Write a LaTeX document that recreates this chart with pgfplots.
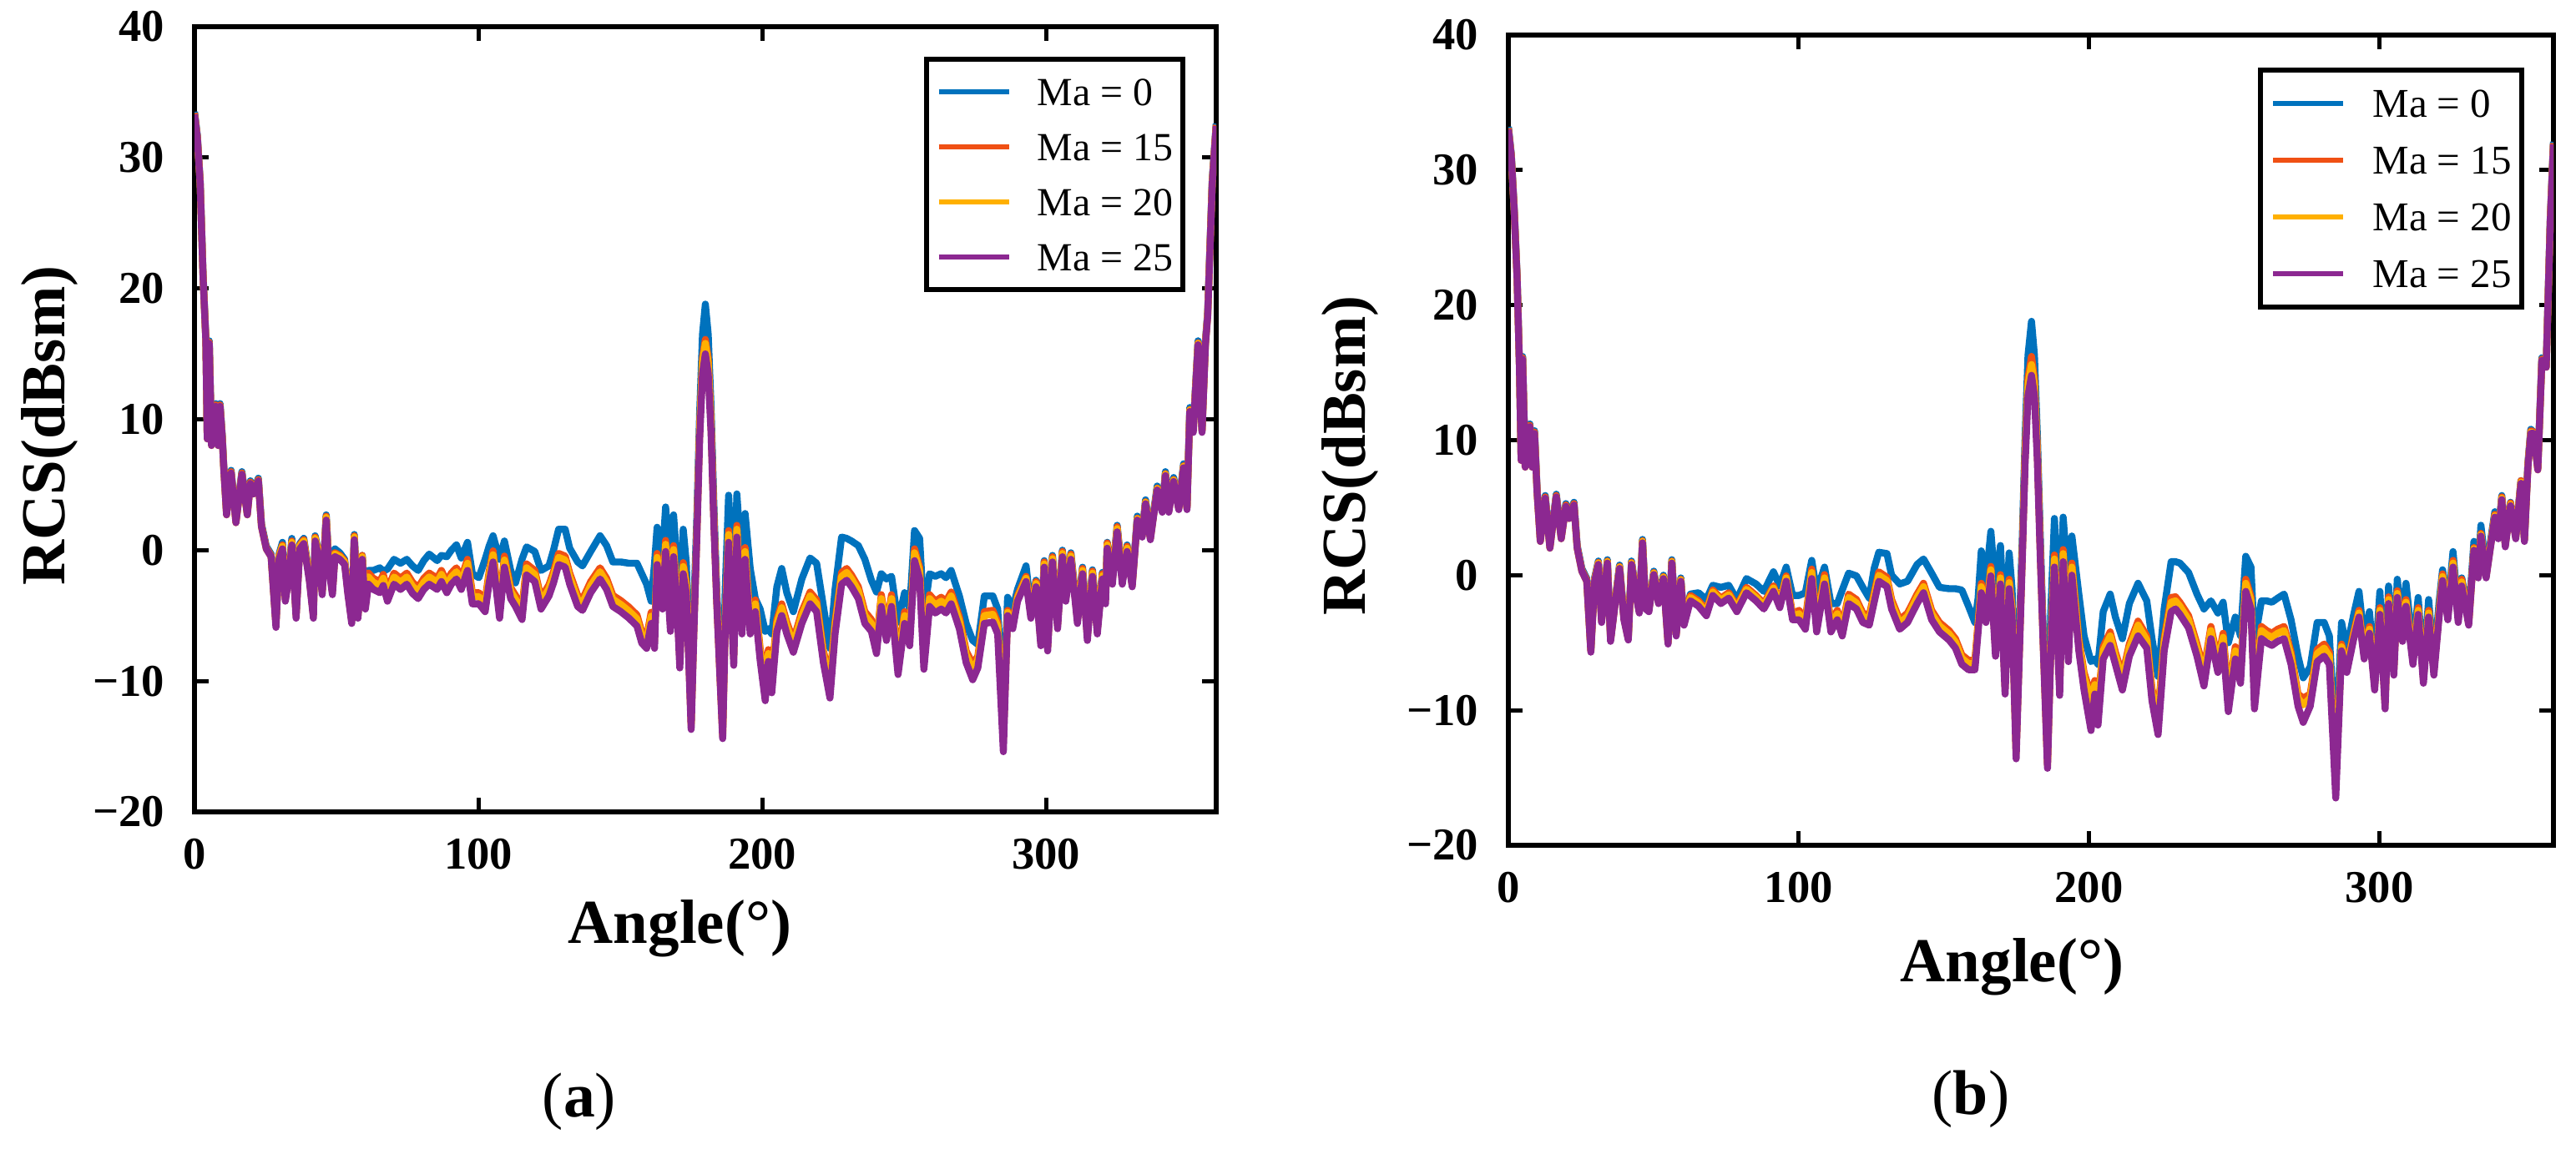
\documentclass[border=0pt]{standalone}
\usepackage{pgfplots}
\pgfplotsset{compat=1.18}
\usepackage{pgfplotstable}
\usepackage{fontspec}
\setmainfont{Liberation Serif}

\definecolor{cA}{RGB}{0,114,189}
\definecolor{cB}{RGB}{240,80,20}
\definecolor{cC}{RGB}{255,176,0}
\definecolor{cD}{RGB}{140,40,145}

\pgfplotstableread{
a m0 m15 m20 m25
0 33.5 33.4 33.3 33.3
1 31.7 31.6 31.5 31.5
2 28.2 28.1 28.0 28.0
3 21.2 21.1 21.0 21.0
4.0 16.2 16.1 16.0 16.0
4.5 8.7 8.6 8.5 8.5
5.2 16.0 15.9 15.8 15.8
6.0 8.2 8.1 8.0 8.0
6.8 9.2 9.1 9.0 9.0
7.5 11.2 11.1 11.0 11.0
8.3 8.2 8.1 8.0 8.0
9.0 11.2 11.1 11.0 11.0
9.8 8.7 8.6 8.5 8.5
10.3 6.5 6.4 6.3 6.3
11.3 2.9 2.8 2.7 2.7
12.9 6.1 6.0 5.9 5.9
14.6 2.3 2.2 2.1 2.1
16.7 6.0 5.9 5.8 5.8
18.6 2.9 2.8 2.7 2.7
19.7 5.3 5.2 5.1 5.1
20.8 4.5 4.4 4.3 4.3
22.5 5.5 5.4 5.3 5.3
23.6 2.0 1.9 1.8 1.8
25.3 0.3 0.2 0.1 0.1
27.0 -0.3 -0.4 -0.5 -0.5
28.7 -5.5 -5.6 -5.7 -5.9
29.8 -0.3 -0.4 -0.5 -0.7
31.0 0.6 0.4 0.3 0.1
32.0 -3.5 -3.6 -3.7 -3.9
33.2 -1.8 -1.9 -2.0 -2.2
34.3 0.9 0.7 0.6 0.4
35.8 -4.8 -4.9 -5.0 -5.2
37.1 0.5 0.4 0.3 0.1
38.5 0.9 0.8 0.7 0.5
40.5 -2.0 -2.1 -2.2 -2.4
41.9 -4.8 -4.9 -5.0 -5.2
42.5 1.1 1.0 0.9 0.7
43.9 -0.3 -0.4 -0.5 -0.7
45.0 -3.0 -3.1 -3.2 -3.4
46.4 2.7 2.6 2.5 2.3
47.3 -0.9 -1.0 -1.1 -1.3
48.6 -3.0 -3.1 -3.2 -3.4
49.5 0.1 -0.2 -0.3 -0.5
51.2 -0.2 -0.4 -0.5 -0.7
52.9 -0.7 -0.8 -0.9 -1.1
54.0 -2.9 -3.0 -3.1 -3.3
55.4 -5.2 -5.3 -5.4 -5.6
56.3 1.2 1.1 1.0 0.8
57.6 -4.8 -4.9 -5.0 -5.2
59.1 -0.4 -0.4 -0.5 -0.7
60.2 -4.0 -4.2 -4.3 -4.5
61.3 -1.55 -1.75 -2.05 -2.6
63.0 -1.55 -2.15 -2.45 -3.0
65.3 -1.35 -2.4 -2.7 -3.25
66.5 -1.6 -1.85 -2.15 -2.7
68.0 -1.45 -3.05 -3.35 -3.9
70.3 -0.7 -1.75 -2.05 -2.6
72.6 -1.0 -2.15 -2.45 -3.0
74.8 -0.7 -1.75 -2.05 -2.6
76.8 -1.2 -2.45 -2.75 -3.3
78.8 -1.55 -2.85 -3.15 -3.7
80.8 -0.8 -2.15 -2.45 -3.0
82.7 -0.3 -1.75 -2.05 -2.6
85.5 -0.8 -2.15 -2.45 -3.0
87.0 -0.4 -1.55 -1.85 -2.4
88.9 -0.5 -2.4 -2.7 -3.25
90.5 0.0 -1.75 -2.05 -2.6
92.3 0.4 -1.35 -1.65 -2.2
94.0 -0.6 -2.15 -2.45 -3.0
96.2 0.6 -0.7 -1.0 -1.55
97.9 -1.8 -3.25 -3.55 -4.1
100.2 -2.1 -3.25 -3.55 -4.1
102.4 -0.7 -3.85 -4.15 -4.7
103.8 0.3 -1.65 -1.95 -2.5
105.2 1.1 -0.05 -0.35 -0.9
107.5 -0.7 -4.35 -4.65 -5.2
109.2 0.7 -0.45 -0.75 -1.3
111.4 -1.55 -2.85 -3.15 -3.7
113.1 -2.5 -3.45 -3.75 -4.3
115.4 -0.7 -4.45 -4.75 -5.3
117.0 0.25 -1.05 -1.35 -1.9
119.9 -0.1 -1.55 -1.85 -2.4
122.1 -1.55 -3.65 -3.95 -4.5
124.9 -1.2 -2.65 -2.95 -3.5
126.5 0.0 -1.65 -1.95 -2.5
128.3 1.6 -0.25 -0.55 -1.1
130.6 1.6 -0.45 -0.75 -1.3
132.2 0.15 -1.75 -2.05 -2.6
135.0 -0.9 -3.45 -3.75 -4.3
136.7 -1.2 -3.75 -4.05 -4.6
139.6 -0.1 -2.4 -2.7 -3.25
142.9 1.1 -1.35 -1.65 -2.2
145.2 0.35 -2.15 -2.45 -3.0
147.4 -0.9 -3.45 -3.75 -4.3
150.2 -0.9 -3.85 -4.15 -4.7
153.1 -1.0 -4.35 -4.65 -5.2
155.9 -1.0 -4.95 -5.25 -5.8
157.6 -1.8 -6.25 -6.55 -7.1
159.3 -2.6 -6.65 -6.95 -7.5
160.9 -3.9 -4.75 -5.05 -5.6
162.1 -1.0 -6.65 -6.95 -7.5
163.0 1.75 -0.25 -0.55 -1.1
164.9 -0.5 -3.65 -3.95 -4.5
166.0 3.3 0.75 0.45 -0.1
167.7 -1.8 -5.35 -5.65 -6.2
168.8 2.7 0.35 0.05 -0.5
170.0 -1.0 -3.45 -3.75 -4.3
171.0 -6.0 -8.15 -8.45 -9.0
172.2 1.6 -0.95 -1.25 -1.8
173.3 -1.0 -2.45 -2.75 -3.3
175.0 -12.5 -13.2 -13.4 -13.7
176.0 -4.0 -5.4 -5.6 -6.0
177.0 2.5 1.5 1.3 1.0
178.0 10.5 9.5 9.2 8.5
179.0 16.5 14.7 14.3 13.5
180.0 18.8 16.1 15.8 15.0
181.0 16.5 14.7 14.3 13.5
182.0 11.0 10.0 9.6 9.0
183.0 3.5 2.6 2.4 2.0
184.0 -3.0 -3.6 -3.8 -4.0
185.0 -8.0 -8.7 -8.8 -9.0
186.1 -13.0 -14.0 -14.2 -14.4
187.0 -3.0 -5.3 -5.6 -6.0
188.2 4.2 1.5 1.2 0.6
190.0 -4.0 -7.9 -8.2 -8.8
191.1 4.3 1.9 1.6 1.0
192.9 -1.5 -5.5 -5.8 -6.4
194.0 2.8 0.2 -0.1 -0.7
195.8 -1.4 -5.5 -5.8 -6.4
197.6 -3.7 -3.8 -4.1 -4.7
199.3 -4.5 -7.5 -7.8 -8.4
201.1 -6.2 -9.8 -10.2 -11.5
202.2 -6.0 -7.6 -7.9 -8.5
203.4 -6.4 -9.4 -9.8 -10.9
205.2 -2.8 -5.3 -5.6 -6.2
206.9 -1.4 -4.1 -4.4 -5.0
208.7 -3.25 -5.5 -5.8 -6.4
211.0 -4.7 -6.9 -7.2 -7.8
214.0 -2.2 -4.7 -5.0 -5.6
216.9 -0.6 -3.2 -3.5 -4.1
219.2 -1.0 -3.8 -4.1 -4.7
221.6 -4.3 -7.7 -8.0 -8.6
223.9 -7.5 -9.8 -10.2 -11.3
225.7 -3.0 -5.5 -5.8 -6.4
228.0 1.0 -1.7 -2.0 -2.6
229.8 0.9 -1.4 -1.7 -2.3
231.5 0.7 -1.9 -2.2 -2.8
233.9 0.35 -2.8 -3.1 -3.7
236.2 -0.7 -4.7 -5.0 -5.6
238.5 -2.3 -5.3 -5.6 -6.2
240.3 -3.2 -7.0 -7.3 -7.9
242.0 -1.8 -3.4 -3.7 -4.3
243.8 -2.2 -6.0 -6.3 -6.9
245.6 -2.0 -3.4 -3.7 -4.3
247.9 -5.5 -8.3 -8.7 -9.5
250.2 -3.25 -4.7 -5.0 -5.6
252.0 -4.5 -6.4 -6.7 -7.3
253.7 1.5 0.1 -0.2 -0.8
255.5 0.9 -1.3 -1.6 -2.2
257.0 -5.0 -8.0 -8.4 -9.1
259.0 -1.8 -3.4 -3.7 -4.3
261.0 -2.0 -3.9 -4.2 -4.8
263.1 -1.8 -3.6 -3.9 -4.5
264.8 -2.1 -3.9 -4.2 -4.8
266.6 -1.55 -3.2 -3.5 -4.1
269.5 -3.5 -5.1 -5.4 -6.0
271.9 -5.6 -7.7 -8.0 -8.6
274.2 -6.9 -8.7 -9.1 -9.9
276.0 -7.2 -8.1 -8.4 -9.0
278.3 -3.5 -4.7 -5.0 -5.6
281.3 -3.5 -4.6 -4.9 -5.5
283.0 -4.5 -5.5 -5.8 -6.4
285.0 -12.0 -14.0 -14.5 -15.4
286.5 -3.6 -4.6 -4.75 -5.0
288.3 -4.5 -5.6 -5.75 -6.0
290.0 -3.0 -3.5 -3.65 -3.9
293.0 -1.2 -2.0 -2.15 -2.4
294.7 -4.5 -4.8 -4.95 -5.2
296.5 -2.3 -2.4 -2.55 -2.8
298.2 -6.5 -6.9 -7.05 -7.3
299.4 -0.8 -0.9 -1.05 -1.3
300.6 -7.0 -7.3 -7.45 -7.7
302.3 -0.4 -0.5 -0.65 -0.9
304.1 -5.5 -5.6 -5.75 -6.0
305.8 0.0 -0.1 -0.25 -0.5
307.0 -3.4 -3.5 -3.65 -3.9
308.8 -0.2 -0.3 -0.45 -0.7
311.1 -5.0 -5.2 -5.35 -5.6
312.9 -1.3 -1.4 -1.55 -1.8
314.6 -6.3 -6.5 -6.65 -6.9
316.4 -1.5 -1.6 -1.75 -2.0
318.1 -5.9 -6.0 -6.15 -6.4
319.9 -1.7 -1.8 -1.95 -2.2
321.0 -3.6 -3.7 -3.85 -4.1
321.6 0.6 0.55 0.4 0.15
323.4 -2.1 -2.2 -2.35 -2.6
325.1 1.9 1.8 1.65 1.4
326.9 -2.1 -2.2 -2.35 -2.6
328.6 0.4 0.3 0.15 -0.1
330.4 -2.5 -2.65 -2.7 -2.8
332.2 2.6 2.45 2.4 2.3
333.9 1.3 1.15 1.1 1.0
335.1 3.85 3.7 3.65 3.55
336.8 1.1 0.95 0.9 0.8
339.2 4.9 4.75 4.7 4.6
341.0 3.2 3.05 3.0 2.9
342.1 6.0 5.85 5.8 5.7
343.3 3.2 3.05 3.0 2.9
345.0 5.55 5.4 5.35 5.25
346.8 3.4 3.25 3.2 3.1
348.5 6.6 6.45 6.4 6.3
349.7 3.4 3.25 3.2 3.1
350.7 10.9 10.75 10.7 10.6
351.9 9.3 9.15 9.1 9.0
353.6 16.0 15.85 15.8 15.7
355.0 9.3 9.15 9.1 9.0
356.2 16.0 15.85 15.8 15.7
357.0 18.2 18.05 18.0 17.9
358.6 28.3 28.15 28.1 28.0
360.0 32.6 32.5 32.4 32.4
}\tabA

\pgfplotstableread{
a m0 m15 m20 m25
0 33.2 33.1 33.0 33.0
1 31.2 31.1 31.0 31.0
2 27.2 27.1 27.0 27.0
3.0 22.2 22.1 22.0 22.0
3.8 15.7 15.6 15.5 15.5
4.4 8.7 8.6 8.5 8.5
4.9 16.2 16.1 16.0 16.0
5.8 8.2 8.1 8.0 8.0
6.6 10.7 10.6 10.5 10.5
7.4 11.2 11.1 11.0 11.0
8.2 8.2 8.1 8.0 8.0
9.0 10.7 10.6 10.5 10.5
9.9 6.3 6.2 6.1 6.1
11.0 2.7 2.6 2.5 2.5
12.7 5.9 5.8 5.7 5.7
14.3 2.2 2.1 2.0 2.0
16.5 6.0 5.9 5.8 5.8
18.2 2.9 2.8 2.7 2.7
19.8 5.3 5.2 5.1 5.1
20.9 4.4 4.3 4.2 4.2
22.6 5.4 5.3 5.2 5.2
23.7 2.2 2.1 2.0 2.0
25.3 0.5 0.4 0.3 0.3
27.0 -0.25 -0.35 -0.45 -0.45
28.4 -5.45 -5.55 -5.6 -5.7
29.7 -0.2 -0.3 -0.35 -0.45
31.0 1.05 0.95 0.9 0.8
32.1 -3.25 -3.35 -3.4 -3.5
34.1 1.15 1.05 1.0 0.9
35.2 -4.65 -4.75 -4.8 -4.9
36.9 -1.65 -1.75 -1.8 -1.9
38.3 0.75 0.65 0.6 0.5
39.8 -3.05 -3.15 -3.2 -3.3
41.3 -4.55 -4.65 -4.7 -4.8
42.4 1.05 0.95 0.9 0.8
43.8 -1.05 -1.15 -1.2 -1.3
45.1 -2.55 -2.65 -2.7 -2.8
46.2 2.65 2.55 2.5 2.4
47.3 -2.25 -2.35 -2.4 -2.5
48.4 -2.45 -2.55 -2.6 -2.7
50.1 0.3 0.2 0.15 0.05
51.7 -1.85 -1.95 -2.0 -2.1
53.4 0.0 -0.1 -0.15 -0.25
55.0 -4.85 -4.95 -5.0 -5.1
56.3 1.15 1.05 1.0 0.9
57.8 -4.25 -4.35 -4.4 -4.5
59.4 -0.2 -0.3 -0.35 -0.45
60.5 -3.45 -3.55 -3.6 -3.7
62.7 -1.4 -1.5 -1.65 -1.9
65.5 -1.3 -1.9 -2.05 -2.3
68.2 -1.8 -2.6 -2.75 -3.0
70.4 -0.75 -1.1 -1.25 -1.5
73.2 -0.9 -1.7 -1.85 -2.1
75.9 -0.75 -1.3 -1.45 -1.7
78.7 -1.8 -2.3 -2.45 -2.7
82.0 -0.25 -0.9 -1.05 -1.3
85.3 -0.65 -1.5 -1.65 -1.9
88.0 -1.2 -2.1 -2.25 -2.5
91.3 0.25 -0.8 -0.95 -1.2
93.5 -0.8 -2.0 -2.15 -2.4
95.7 0.6 -0.05 -0.2 -0.45
97.9 -1.5 -2.9 -3.05 -3.3
100.1 -1.5 -2.6 -2.85 -3.3
102.3 -1.3 -3.3 -3.55 -4.0
104.5 1.1 0.45 0.2 -0.25
106.2 -1.2 -3.5 -3.75 -4.2
108.9 0.6 0.05 -0.2 -0.65
111.1 -2.1 -3.5 -3.75 -4.2
113.3 -2.1 -2.6 -2.85 -3.3
115.0 -1.1 -3.8 -4.05 -4.5
117.2 0.15 -1.4 -1.65 -2.1
119.9 -0.05 -1.8 -2.05 -2.5
122.1 -0.9 -2.8 -3.05 -3.5
124.3 -1.7 -3.0 -3.25 -3.7
126.0 0.5 -1.3 -1.55 -2.0
127.6 1.7 0.25 0.0 -0.45
130.4 1.6 -0.15 -0.4 -0.85
132.0 0.0 -1.8 -2.05 -2.5
134.8 -0.65 -3.3 -3.55 -4.0
137.5 -0.45 -2.8 -3.05 -3.5
140.8 0.8 -1.4 -1.65 -2.1
143.0 1.2 -0.6 -0.85 -1.3
145.8 0.15 -2.6 -2.85 -3.3
148.5 -0.9 -3.5 -3.75 -4.2
151.8 -1.0 -4.1 -4.35 -4.8
154.0 -1.0 -4.7 -4.95 -5.4
156.2 -1.1 -5.9 -6.15 -6.6
158.5 -2.3 -6.3 -6.55 -7.0
160.7 -3.5 -6.3 -6.55 -7.0
161.8 -1.7 -3.5 -3.75 -4.2
162.9 1.8 -0.6 -0.85 -1.3
164.5 -0.5 -2.8 -3.05 -3.5
166.2 3.25 0.65 0.4 -0.05
167.8 -1.1 -5.3 -5.55 -6.0
169.5 2.2 0.05 -0.2 -0.65
171.1 -5.0 -8.1 -8.35 -8.8
172.5 1.65 -0.3 -0.55 -1.0
173.5 -1.0 -2.3 -2.55 -3.0
174.9 -12.0 -13.0 -13.2 -13.6
176.0 -4.0 -5.4 -5.6 -6.0
177.0 2.5 1.5 1.3 1.0
178.0 10.3 9.3 9.0 8.3
179.0 16.3 14.6 14.1 13.3
180.2 18.8 16.2 15.6 14.8
181.2 16.3 14.6 14.1 13.3
182.2 10.5 9.5 9.1 8.5
183.2 3.0 2.1 1.9 1.5
184.2 -4.0 -4.6 -4.8 -5.0
185.7 -13.0 -13.9 -14.1 -14.3
186.8 -3.0 -5.3 -5.6 -6.0
188.1 4.2 1.5 1.2 0.6
189.9 -4.0 -8.0 -8.3 -8.9
191.1 4.3 1.9 1.6 1.0
192.9 -0.8 -5.5 -5.8 -6.4
194.1 2.9 0.9 0.6 0.0
196.5 -1.4 -4.7 -5.0 -5.6
198.3 -4.5 -7.2 -7.5 -8.5
200.7 -6.4 -8.9 -9.3 -11.5
202.0 -6.2 -7.8 -8.1 -8.8
203.1 -6.6 -9.4 -9.8 -11.1
204.9 -2.7 -5.3 -5.6 -6.2
207.3 -1.4 -4.2 -4.5 -5.2
209.1 -3.1 -5.7 -6.0 -6.6
211.5 -4.7 -7.4 -7.7 -8.5
213.9 -2.1 -5.1 -5.4 -6.0
216.9 -0.6 -3.4 -3.7 -4.5
219.9 -1.9 -4.5 -4.8 -5.4
221.7 -4.7 -8.4 -8.7 -9.3
223.8 -7.5 -10.2 -10.6 -11.8
225.9 -2.5 -4.7 -5.0 -5.6
228.3 1.0 -1.65 -2.0 -2.7
229.8 1.0 -1.6 -1.9 -2.5
231.3 0.9 -2.0 -2.3 -2.9
234.3 0.2 -3.0 -3.3 -3.9
237.2 -1.4 -5.1 -5.4 -6.0
239.6 -2.5 -7.0 -7.4 -8.2
242.0 -1.9 -3.8 -4.1 -4.7
244.4 -2.8 -6.3 -6.6 -7.2
246.2 -2.0 -4.3 -4.6 -5.2
248.0 -5.0 -8.8 -9.2 -10.1
250.4 -3.1 -5.3 -5.6 -6.2
252.2 -4.5 -7.1 -7.4 -8.0
254.0 1.4 -0.3 -0.6 -1.2
255.8 0.6 -1.6 -1.9 -2.5
257.0 -5.0 -8.6 -9.0 -9.9
259.4 -1.9 -3.8 -4.1 -4.7
261.2 -1.9 -4.1 -4.4 -5.0
263.0 -2.0 -4.3 -4.6 -5.2
265.0 -1.7 -4.0 -4.3 -4.9
267.2 -1.4 -3.8 -4.1 -4.7
269.6 -3.3 -5.7 -6.0 -6.6
272.0 -6.0 -8.8 -9.1 -9.7
273.8 -7.6 -9.1 -9.6 -10.9
276.2 -6.8 -8.8 -9.1 -9.7
278.6 -3.5 -5.5 -5.8 -6.4
281.0 -3.5 -5.1 -5.4 -6.0
282.8 -4.5 -5.7 -6.0 -6.6
285.0 -13.0 -15.0 -15.5 -16.5
287.0 -3.5 -5.1 -5.3 -5.6
288.8 -5.5 -6.7 -6.9 -7.2
291.2 -2.9 -4.2 -4.4 -4.7
293.0 -1.2 -2.6 -2.8 -3.1
294.8 -4.8 -5.7 -5.9 -6.2
296.6 -2.7 -3.8 -4.0 -4.3
298.4 -7.0 -8.0 -8.2 -8.5
300.2 -1.2 -2.4 -2.6 -2.9
302.0 -8.0 -9.4 -9.6 -9.9
303.2 -0.8 -1.6 -1.8 -2.1
305.0 -6.0 -6.9 -7.1 -7.4
306.2 -0.3 -1.15 -1.35 -1.65
308.0 -4.0 -4.4 -4.6 -4.9
309.2 -0.6 -1.8 -2.0 -2.3
311.6 -5.5 -6.1 -6.3 -6.6
313.4 -1.65 -2.4 -2.6 -2.9
315.2 -7.0 -7.5 -7.7 -8.0
317.0 -1.8 -2.6 -2.8 -3.1
318.8 -6.5 -6.9 -7.1 -7.4
320.6 -2.0 -2.6 -2.8 -3.1
321.8 0.4 0.1 -0.1 -0.4
323.6 -2.5 -2.8 -3.0 -3.3
325.4 1.75 1.1 0.9 0.6
327.2 -2.8 -3.0 -3.2 -3.5
328.4 -0.2 -0.3 -0.5 -0.8
330.8 -3.0 -3.5 -3.6 -3.7
332.6 2.5 2.05 1.95 1.85
334.1 0.4 0.0 -0.1 -0.2
335.0 3.7 3.1 3.0 2.9
336.8 0.3 0.0 -0.1 -0.2
339.8 4.7 4.5 4.4 4.3
341.0 3.0 2.9 2.8 2.7
342.2 5.9 5.8 5.7 5.6
343.4 2.4 2.3 2.2 2.1
345.2 5.4 5.35 5.25 5.15
347.0 2.9 2.9 2.8 2.7
348.8 7.0 7.0 6.9 6.8
350.0 2.7 2.7 2.6 2.5
351.2 8.3 8.2 8.1 8.0
352.2 10.8 10.7 10.6 10.5
353.2 10.6 10.6 10.5 10.5
354.6 8.0 7.9 7.8 7.8
356.0 16.1 16.0 15.9 15.9
357.5 15.6 15.5 15.4 15.4
358.9 26.4 26.3 26.2 26.2
360.0 32.1 32.0 31.9 31.9
}\tabB

\pgfplotsset{
  rcs/.style={
    scale only axis,
    anchor=south west,
    xmin=0, xmax=360, ymin=-20, ymax=40,
    xtick={0,100,200,300}, xticklabels={0,100,200,300},
    ytick={-20,-10,0,10,20,30,40},
    yticklabels={−20,−10,0,10,20,30,40},
    tick align=inside,
    major tick length=4.25bp,
    every tick/.style={black, line width=1.25bp},
    axis line style={black, line width=1.6bp},
    tick label style={font=\bfseries\fontsize{13.7}{14}\selectfont, inner sep=0pt},
    yticklabel style={xshift=-8.75bp},
    xticklabel style={yshift=-7.75bp},
    label style={font=\bfseries\fontsize{18.8}{20}\selectfont},
    legend cell align=left,
    legend image code/.code={\draw[##1, line width=1.5bp] (0bp,0bp) -- (21bp,0bp);},
    every axis plot/.append style={line width=2.1bp, line join=round, no markers},
  },
}

\begin{document}
\begin{tikzpicture}
\useasboundingbox (0bp,0bp) rectangle (771.5bp,344.25bp);

\begin{axis}[rcs,
  at={(58.25bp,101bp)}, width=306bp, height=235.25bp,
  xlabel={Angle(°)},
  ylabel={RCS(dBsm)},
  xlabel style={at={([yshift=-35bp]axis description cs:0.475,0)}, anchor=center},
  ylabel style={at={([xshift=-43.5bp]axis description cs:0,0.492)}, anchor=center},
  legend style={at={(axis description cs:0.9698,0.9617)}, anchor=north east,
    draw=black, line width=1.5bp, fill=white,
    font=\fontsize{12}{12}\selectfont,
    inner xsep=3bp, inner ysep=5.45bp, row sep=7.9bp, column sep=7.75bp,
    nodes={inner sep=0pt, text height=8.4bp, text depth=0.2bp}},
]
\addplot[cA] table[x=a, y=m0] {\tabA};
\addplot[cB] table[x=a, y=m15] {\tabA};
\addplot[cC] table[x=a, y=m20] {\tabA};
\addplot[cD] table[x=a, y=m25] {\tabA};
\legend{Ma = 0, Ma = 15, Ma = 20, Ma = 25}
\end{axis}

\begin{axis}[rcs,
  at={(451.75bp,91bp)}, width=313bp, height=242.75bp,
  xlabel={Angle(°)},
  ylabel={RCS(dBsm)},
  xlabel style={at={([yshift=-36.5bp]axis description cs:0.482,0)}, anchor=center},
  ylabel style={at={([xshift=-47.5bp]axis description cs:0,0.481)}, anchor=center},
  legend style={at={(axis description cs:0.972,0.960)}, anchor=north east,
    draw=black, line width=1.5bp, fill=white,
    font=\fontsize{12.3}{12.3}\selectfont,
    inner xsep=3bp, inner ysep=5.6bp, row sep=8.2bp, column sep=8bp,
    nodes={inner sep=0pt, text height=8.6bp, text depth=0.2bp}},
]
\addplot[cA] table[x=a, y=m0] {\tabB};
\addplot[cB] table[x=a, y=m15] {\tabB};
\addplot[cC] table[x=a, y=m20] {\tabB};
\addplot[cD] table[x=a, y=m25] {\tabB};
\legend{Ma = 0, Ma = 15, Ma = 20, Ma = 25}
\end{axis}

\node[font=\fontsize{19}{20}\selectfont] at (173.5bp,14.25bp) {(\textbf{a})};
\node[font=\fontsize{19}{20}\selectfont] at (590.25bp,15bp) {(\textbf{b})};
\end{tikzpicture}
\end{document}
